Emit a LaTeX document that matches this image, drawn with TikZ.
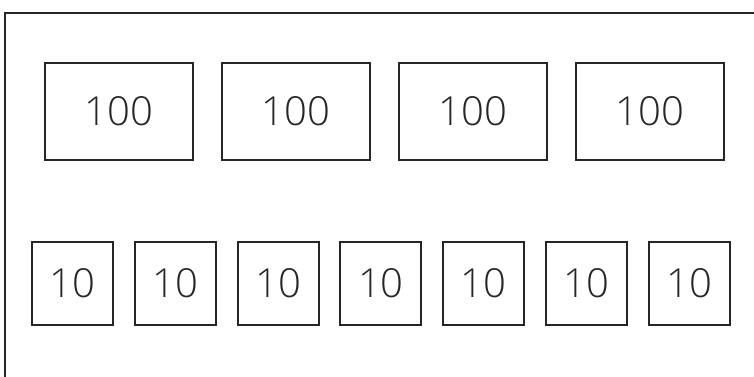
\documentclass[tikz,border=0pt]{standalone}
\usepackage{fontspec}
\newfontfamily\digitfont{Open Sans Light}
\definecolor{ink}{RGB}{38,38,38}
\begin{document}
\begin{tikzpicture}[x=1pt,y=1pt,
  bigbox/.style={draw=ink,line width=2pt,minimum width=148pt,minimum height=97pt,inner sep=0pt,font=\digitfont\fontsize{40}{40}\selectfont,text=ink},
  smallbox/.style={draw=ink,line width=2pt,minimum width=81pt,minimum height=83pt,inner sep=0pt,font=\digitfont\fontsize{40}{40}\selectfont,text=ink}]
\useasboundingbox (0,0) rectangle (754,376);
\clip (0,0) rectangle (754,376);
\draw[line width=2pt,draw=ink] (5,-20) rectangle (780,363);
\foreach \i/\x in {1/119,2/296,3/473,4/650}
  \node[bigbox] (b\i) at (\x,264.5) {100};
\foreach \i in {0,...,6}
  \node[smallbox] (s\i) at ({72.5+102.8*\i},92.5) {10};
\end{tikzpicture}
\end{document}
